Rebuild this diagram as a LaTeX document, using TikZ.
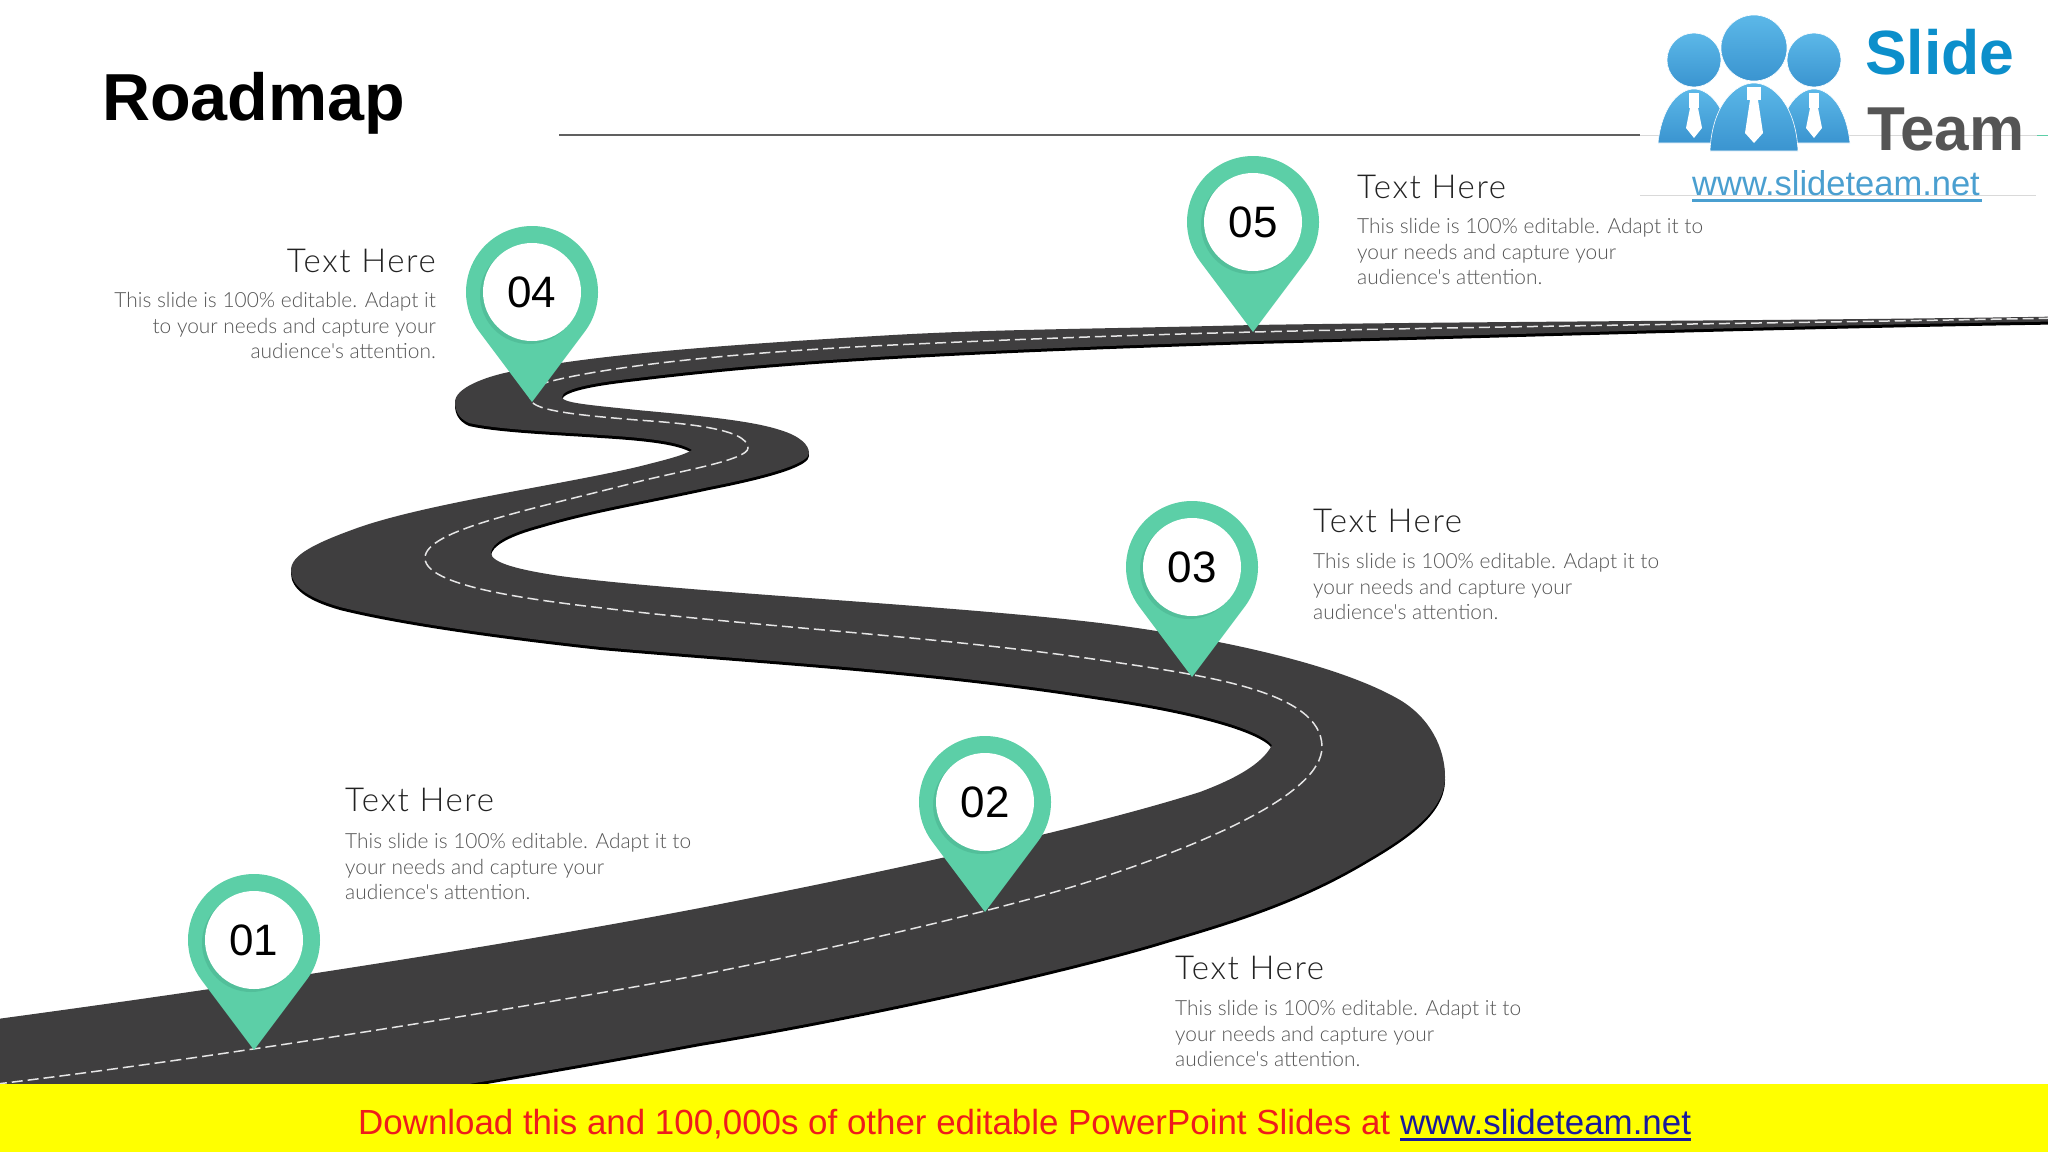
\documentclass[tikz,border=0pt]{standalone}
\usepackage{fontspec}
\setmainfont{Liberation Sans}
\newfontfamily\lightfont{Lato Light}
\newfontfamily\headfont[LetterSpace=5]{Lato Light}
\definecolor{roadc}{HTML}{3F3E3F}
\definecolor{pinc}{HTML}{5CCFA7}
\definecolor{pinshade}{HTML}{52BF9A}
\definecolor{headc}{HTML}{222222}
\definecolor{bodyc}{HTML}{555555}
\definecolor{logoa}{HTML}{5CB8E8}
\definecolor{logob}{HTML}{3A94D0}
\definecolor{slidec}{HTML}{0C8FCB}
\definecolor{teamc}{HTML}{555555}
\definecolor{urlc}{HTML}{4A9FD0}
\definecolor{bannerred}{HTML}{EE1C1C}
\definecolor{bannerblue}{HTML}{1A1A9C}
\definecolor{banneryellow}{HTML}{FFFF00}
\definecolor{rulec}{HTML}{606060}
\tikzset{
  headtext/.style={inner sep=0pt,text=headc,font=\headfont\fontsize{33}{36}\selectfont},
  bodytext/.style={inner sep=0pt,text=bodyc,font=\lightfont\fontsize{20.9}{25.7}\selectfont},
  pintext/.style={inner sep=0pt,text=black,font=\fontsize{44}{48}\selectfont},
  logoball/.style={top color=logoa,bottom color=logob,draw=white,line width=0.6pt},
}
\newcommand{\pinmark}[3]{%
  \fill[pinc] (#1,#2+110) -- (#1+52.8,#2+39.6) arc[start angle=-36.87,end angle=216.87,radius=66pt] -- cycle;
  \fill[pinshade] (#1-3,#2+3) circle[radius=49pt];
  \node[circle,fill=white,minimum size=98pt,inner sep=0pt] (pinhead#3) at (#1,#2) {};
  \node[pintext] (pinlabel#3) at (#1,#2) {#3};
}
\newcommand{\roadpath}{
  (-40,1024) .. controls (200,992) and (480,950) .. (700,908)
  .. controls (870,875) and (1080,830) .. (1200,792)
  .. controls (1232,780) and (1262,765) .. (1272,745)
  .. controls (1258,728) and (1190,710) .. (1100,697)
  .. controls (930,670) and (760,661) .. (601,647)
  .. controls (500,636) and (400,622) .. (340,607)
  .. controls (305,597) and (291,585) .. (291,570)
  .. controls (291,555) and (315,543) .. (360,527)
  .. controls (430,503) and (560,485) .. (637,467)
  .. controls (665,460) and (685,455) .. (692,450)
  .. controls (680,442) and (650,438) .. (601,435)
  .. controls (560,432) and (500,430) .. (469,423)
  .. controls (458,418) and (455,410) .. (455,402)
  .. controls (455,388) and (485,377) .. (509,372)
  .. controls (590,355) and (720,345) .. (893,335)
  .. controls (1000,329) and (1100,329) .. (1253,325)
  .. controls (1500,321) and (1800,321) .. (2090,316)
  -- (2090,321)
  .. controls (1800,325) and (1500,335) .. (1253,341)
  .. controls (1100,346) and (1000,350) .. (893,356)
  .. controls (790,362) and (720,368) .. (637,378)
  .. controls (600,382) and (562,388) .. (562,397)
  .. controls (562,403) and (590,405) .. (637,410)
  .. controls (690,415) and (750,420) .. (780,430)
  .. controls (800,436) and (809,445) .. (809,453)
  .. controls (809,462) and (780,473) .. (709,487)
  .. controls (640,502) and (590,510) .. (540,525)
  .. controls (510,533) and (491,543) .. (491,553)
  .. controls (491,563) and (520,570) .. (560,576)
  .. controls (680,592) and (950,605) .. (1100,623)
  .. controls (1220,638) and (1340,665) .. (1400,700)
  .. controls (1430,718) and (1445,748) .. (1445,777)
  .. controls (1445,810) and (1410,835) .. (1367,860)
  .. controls (1300,900) and (1235,920) .. (1167,940)
  .. controls (1100,961) and (900,1010) .. (700,1043)
  .. controls (620,1058) and (540,1072) .. (469,1084)
  -- (400,1098) -- (-40,1110) -- cycle
}
\begin{document}
\begin{tikzpicture}[x=1pt,y=-1pt]
\useasboundingbox (0,0) rectangle (2048,1152);
\clip (0,0) rectangle (2048,1152);
\fill[white] (0,0) rectangle (2048,1152);
% road
\fill[black] [yshift=-3pt] \roadpath;
\fill[roadc] \roadpath;
\draw[white!90!black,line width=1.5pt,dash pattern=on 11pt off 5pt]
  (-20,1086) .. controls (200,1060) and (500,1012) .. (700,975)
  .. controls (850,945) and (1020,905) .. (1100,878)
  .. controls (1200,845) and (1322,795) .. (1322,747)
  .. controls (1322,690) and (1200,675) .. (1100,660)
  .. controls (950,638) and (780,628) .. (637,612)
  .. controls (560,603) and (425,590) .. (425,558)
  .. controls (425,530) and (530,510) .. (637,482)
  .. controls (680,471) and (748,460) .. (748,448)
  .. controls (748,428) and (680,423) .. (637,420)
  .. controls (590,416) and (540,412) .. (532,402)
  .. controls (526,393) and (535,386) .. (548,382)
  .. controls (600,368) and (720,353) .. (893,345)
  .. controls (1000,340) and (1100,336) .. (1253,332)
  .. controls (1500,326) and (1800,323) .. (2060,318);
% pins
\pinmark{254}{940}{01}
\pinmark{985}{802}{02}
\pinmark{1192}{567}{03}
\pinmark{532}{292}{04}
\pinmark{1253}{222}{05}
% title and rule
\node[inner sep=0pt,anchor=base west,font=\fontsize{66.5}{70}\selectfont\bfseries] (title) at (102,120) {Roadmap};
\coordinate (rulea) at (559,134.5);
\coordinate (ruleb) at (1640,134.5);
\draw[line width=2pt,color=rulec] (rulea) -- (ruleb);
% texts
\node[headtext,anchor=base west] (h1) at (345,811) {Text Here};
\node[bodytext,anchor=north west,align=left] (b1) at (345,833) {This slide is 100\% editable. Adapt it to\\your needs and capture your\\audience's attention.};
\node[headtext,anchor=base west] (h2) at (1175,979) {Text Here};
\node[bodytext,anchor=north west,align=left] (b2) at (1175,1000) {This slide is 100\% editable. Adapt it to\\your needs and capture your\\audience's attention.};
\node[headtext,anchor=base west] (h3) at (1313,532) {Text Here};
\node[bodytext,anchor=north west,align=left] (b3) at (1313,553) {This slide is 100\% editable. Adapt it to\\your needs and capture your\\audience's attention.};
\node[headtext,anchor=base east] (h4) at (436,272) {Text Here};
\node[bodytext,anchor=north east,align=right] (b4) at (436,292) {This slide is 100\% editable. Adapt it\\to your needs and capture your\\audience's attention.};
\node[headtext,anchor=base west] (h5) at (1357,198) {Text Here};
\node[bodytext,anchor=north west,align=left] (b5) at (1357,218) {This slide is 100\% editable. Adapt it to\\your needs and capture your\\audience's attention.};
% logo
\fill[white] (1640,0) rectangle (2037,196);
\draw[black!15,line width=1pt] (1640,135) -- (2037,135);
\draw[black!15,line width=1pt] (1640,195) -- (2036,195);
\draw[pinc,line width=1pt] (2037,135) -- (2048,135);
\path[logoball] (1658,143) .. controls (1662,105) and (1680,89) .. (1694,89) .. controls (1708,89) and (1726,105) .. (1730,143) -- cycle;
\path[logoball] (1850,143) .. controls (1846,105) and (1828,89) .. (1814,89) .. controls (1800,89) and (1782,105) .. (1778,143) -- cycle;
\path[logoball] (1710,151) .. controls (1712,105) and (1735,83) .. (1754,83) .. controls (1773,83) and (1796,105) .. (1798,151) -- cycle;
\path[logoball] (1694,60) circle[radius=27pt];
\path[logoball] (1814,60) circle[radius=27pt];
\path[logoball] (1754,48) circle[radius=33pt];
\fill[white] (1747,87) rectangle (1761,100);
\fill[white] (1750,100) -- (1758,100) -- (1763,133) -- (1754,143) -- (1745,133) -- cycle;
\fill[white] (1689,93) rectangle (1699,108);
\fill[white] (1690,108) -- (1698,108) -- (1702,128) -- (1694,138) -- (1686,128) -- cycle;
\fill[white] (1809,93) rectangle (1819,108);
\fill[white] (1810,108) -- (1818,108) -- (1822,128) -- (1814,138) -- (1806,128) -- cycle;
\node[inner sep=0pt,anchor=base west,text=slidec,font=\fontsize{62.5}{70}\selectfont\bfseries] (logoslide) at (1865,74) {Slide};
\node[inner sep=0pt,anchor=base west,text=teamc,font=\fontsize{62}{66}\selectfont\bfseries] (logoteam) at (1867,150) {Team};
\node[inner sep=0pt,anchor=base west,text=urlc,font=\fontsize{34.5}{38}\selectfont] (logourl) at (1692,195) {www.slideteam.net};
\fill[urlc] (1692,199) rectangle (1982,201.5);
% banner
\fill[banneryellow] (0,1084) rectangle (2048,1152);
\node[inner sep=0pt,anchor=base west,font=\fontsize{34.9}{38}\selectfont] (banner) at (358,1134) {\textcolor{bannerred}{Download this and 100,000s of other editable PowerPoint Slides at }\textcolor{bannerblue}{www.slideteam.net}};
\fill[bannerblue] (1400,1138) rectangle (1691,1140.5);
\end{tikzpicture}
\end{document}
